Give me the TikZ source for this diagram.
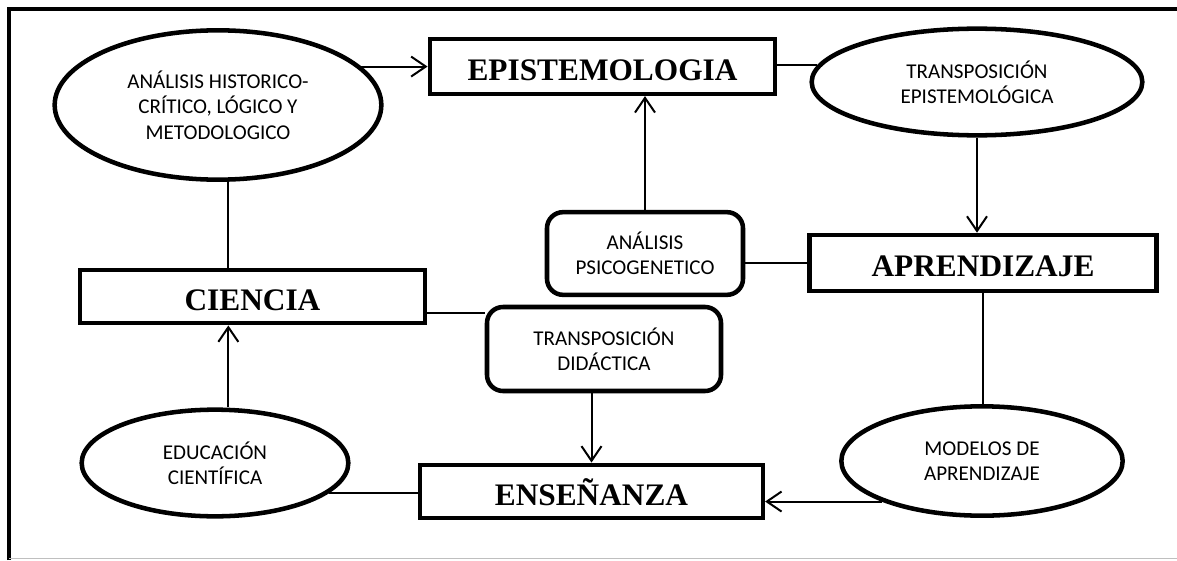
\documentclass[tikz,border=0pt]{standalone}
\usepackage{fontspec}
\setmainfont{Liberation Serif}
\newfontfamily\calib{Carlito}
\usetikzlibrary{shapes.geometric,arrows.meta,calc}

\begin{document}
\begin{tikzpicture}[x=0.75pt,y=-0.75pt,
  oval/.style={draw,ellipse,line width=3.4pt,inner sep=0pt,align=center,font=\calib\fontsize{15.8}{19}\selectfont},
  concept/.style={draw,rectangle,line width=3.4pt,inner sep=0pt,text height=20.5pt,text depth=0pt,font=\bfseries\fontsize{23.5}{28}\selectfont},
  process/.style={draw,rectangle,rounded corners=12pt,line width=3.4pt,inner sep=0pt,align=center,font=\calib\fontsize{15.8}{19}\selectfont},
  link/.style={line width=1.5pt},
  >={Straight Barb[length=11pt,width=15pt]}]
\useasboundingbox (0,0) rectangle (1177,560);
% frame
\draw[line width=3pt] (9,560) -- (9,9.5) -- (1177,9.5);
\draw[black!25,line width=1pt] (9,558.5) -- (1177,558.5);

\node[oval,minimum width=245pt,minimum height=112pt] (anahist) at (218,105) {ANÁLISIS HISTORICO-\\CRÍTICO, LÓGICO Y\\METODOLOGICO};
\node[concept,minimum width=259pt,minimum height=41pt] (epis) at (602.5,66.5) {EPISTEMOLOGIA};
\node[oval,minimum width=248pt,minimum height=80pt] (transepi) at (977,82) {TRANSPOSICIÓN\\EPISTEMOLÓGICA};
\node[process,minimum width=147pt,minimum height=62pt] (psico) at (645,253.5) {ANÁLISIS\\PSICOGENETICO};
\node[concept,minimum width=260pt,minimum height=42pt] (aprend) at (983,263) {APRENDIZAJE};
\node[concept,minimum width=259pt,minimum height=40pt] (ciencia) at (252.5,296.5) {CIENCIA};
\node[process,minimum width=175.5pt,minimum height=63pt] (didac) at (604,349) {TRANSPOSICIÓN\\DIDÁCTICA};
\node[oval,minimum width=211pt,minimum height=82pt] (modelos) at (982,461) {MODELOS DE\\APRENDIZAJE};
\node[oval,minimum width=200pt,minimum height=80pt] (educ) at (215,463) {EDUCACIÓN\\CIENTÍFICA};
\node[concept,minimum width=257pt,minimum height=40pt] (ensen) at (591.5,491.5) {ENSEÑANZA};

\draw[link,->] (anahist.15) -- (anahist.15 -| epis.west);
\draw[link] (transepi.174) -- (transepi.174 -| epis.east);
\draw[link,->] (transepi.south) -- (transepi.south |- aprend.north);
\draw[link] (aprend.west) -- (aprend.west -| psico.east);
\draw[link,->] (psico.north) -- (psico.north |- epis.south);
\draw[link] ([xshift=7.5pt]anahist.south) -- ([xshift=7.5pt]anahist.south |- ciencia.north);
\draw[link,->] ([xshift=10pt]educ.north) -- ([xshift=10pt]educ.north |- ciencia.south);
\draw[link] ([yshift=-12pt]ciencia.east) -- ([yshift=-12pt]ciencia.east -| didac.west);
\draw[link] (educ.-15) -- (educ.-15 -| ensen.west);
\draw[link,->] (modelos.202) -- (modelos.202 -| ensen.east);
\draw[link] (aprend.south) -- (aprend.south |- modelos.north);
\draw[link,->] (didac.south -| ensen.north) -- (ensen.north);
\end{tikzpicture}
\end{document}
